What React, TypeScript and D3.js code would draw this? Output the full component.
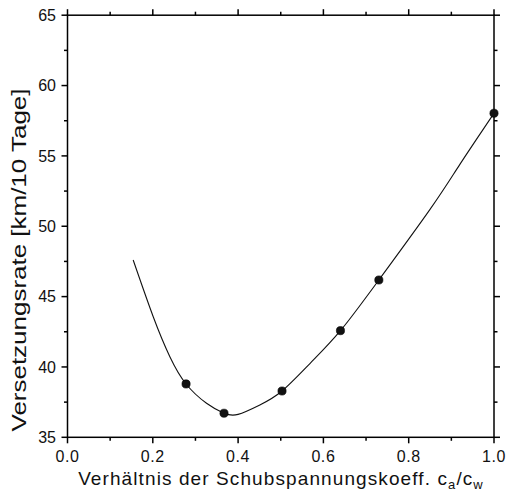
import React from "react";
import * as d3 from "d3";

const pointX = [0.278, 0.367, 0.503, 0.640, 0.730, 1.0];
const pointY = [38.79, 36.71, 38.29, 42.58, 46.18, 58.03];

const fitX = [0.154, 0.201, 0.240, 0.278, 0.326, 0.367, 0.40, 0.451, 0.503, 0.569, 0.640, 0.730, 0.850, 0.920, 1.0];
const fitY = [47.6, 43.57, 40.73, 38.79, 37.42, 36.71, 36.63, 37.3, 38.29, 40.26, 42.58, 46.18, 51.2, 54.4, 58.03];

const xMajor = [0, 0.2, 0.4, 0.6, 0.8, 1.0];
const xMinor = [0.1, 0.3, 0.5, 0.7, 0.9];
const yMajor = [35, 40, 45, 50, 55, 60, 65];
const yMinor = [37.5, 42.5, 47.5, 52.5, 57.5, 62.5];

const W = 507, H = 495;
const L = 67.5, R = 494, T = 15.2, B = 437.3;
const FONT = "'Liberation Sans', Arial, Helvetica, sans-serif";

export default function App() {
  const x = d3.scaleLinear().domain([0, 1]).range([L, R]);
  const y = d3.scaleLinear().domain([35, 65]).range([B, T]);
  const line = d3
    .line<number>()
    .x((_, i) => x(fitX[i]))
    .y((d) => y(d))
    .curve(d3.curveNatural);
  const major = 6, minor = 3.5;
  return (
    <svg width={W} height={H} style={{ position: "absolute", left: 0, top: 0, background: "#fff" }}>
      <rect x={0} y={0} width={W} height={H} fill="#fff" />
      <path d={line(fitY) || ""} fill="none" stroke="#111" strokeWidth={1.1} />
      <g stroke="#000" strokeWidth={1.5}>
        <rect x={L} y={T} width={R - L} height={B - T} fill="none" />
        {xMajor.map((v) => (
          <g key={"xM" + v}>
            <line x1={x(v)} x2={x(v)} y1={B} y2={B + major} />
            <line x1={x(v)} x2={x(v)} y1={T} y2={T - major} />
          </g>
        ))}
        {xMinor.map((v) => (
          <g key={"xm" + v}>
            <line x1={x(v)} x2={x(v)} y1={B} y2={B + minor} />
            <line x1={x(v)} x2={x(v)} y1={T} y2={T - minor} />
          </g>
        ))}
        {yMajor.map((v) => (
          <g key={"yM" + v}>
            <line x1={L} x2={L - major} y1={y(v)} y2={y(v)} />
            <line x1={R} x2={R + major} y1={y(v)} y2={y(v)} />
          </g>
        ))}
        {yMinor.map((v) => (
          <g key={"ym" + v}>
            <line x1={L} x2={L - minor} y1={y(v)} y2={y(v)} />
            <line x1={R} x2={R + minor} y1={y(v)} y2={y(v)} />
          </g>
        ))}
      </g>
      {pointX.map((v, i) => (
        <circle key={"p" + i} cx={x(v)} cy={y(pointY[i])} r={4.1} fill="#111" stroke="#000" strokeWidth={0.6} />
      ))}
      <g fontFamily={FONT} fontSize={16} fill="#111">
        {xMajor.map((v) => (
          <text key={"xl" + v} x={x(v)} y={461.5} textAnchor="middle" letterSpacing={0.6}>
            {v.toFixed(1)}
          </text>
        ))}
        {yMajor.map((v) => (
          <text key={"yl" + v} x={56} y={y(v) + 5.6} textAnchor="end">
            {v}
          </text>
        ))}
      </g>
      <text x={281} y={485} textAnchor="middle" fontFamily={FONT} fontSize={19} fill="#111" letterSpacing={1.1}>
        Verhältnis der Schubspannungskoeff. c
        <tspan fontSize={13} dy={4}>a</tspan>
        <tspan dy={-4}>/c</tspan>
        <tspan fontSize={13} dy={4}>w</tspan>
      </text>
      <text
        transform={`translate(26, 260) rotate(-90)`}
        textAnchor="middle"
        fontFamily={FONT}
        fontSize={20}
        fill="#111"
        textLength={343}
        lengthAdjust="spacingAndGlyphs"
      >
        Versetzungsrate [km/10 Tage]
      </text>
    </svg>
  );
}
